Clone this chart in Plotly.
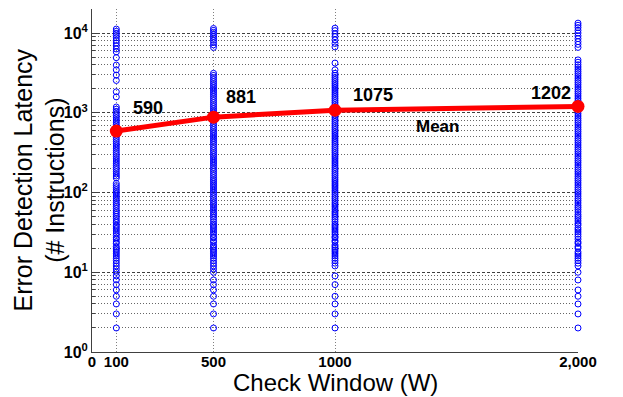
import math
import plotly.graph_objects as go

# ---------------- data ----------------
windows = [100, 500, 1000, 2000]

lat_100 = [2, 3, 4, 5, 6, 7, 8, 9, 10,
           11, 12, 13, 14, 15, 16, 17, 18, 19, 20, 21, 23, 24, 26, 27, 29, 31, 33, 35, 37,
           39, 42, 44, 47, 50, 53, 56, 59, 63, 67, 71, 75, 80, 85, 90, 96, 102, 108, 115,
           122, 130,
           152, 161, 171, 182, 194, 206, 219, 233, 248, 264, 281, 299, 318, 338, 360, 383,
           408, 434, 462, 492, 524, 558, 594, 632, 673, 716, 762, 811, 863, 919, 978, 1041,
           1108, 1180,
           1580, 1830, 2540, 2970, 3450, 3960, 4900,
           5800, 6300, 6900, 7500, 8100, 8700, 9300, 9900, 10500, 11200]

lat_500 = [2, 3, 4, 5, 6, 7, 8, 10,
           11, 12, 13, 14, 15, 16, 17, 18, 19, 20, 21, 22, 24, 25, 27, 28, 30, 32, 34, 36,
           38, 40, 43, 46, 49, 52, 55, 58, 62, 66, 70, 74, 79, 84, 89, 95, 101, 107, 114,
           121, 128, 136, 144, 153, 163, 173, 184, 195, 207, 220, 234, 248, 264, 280, 297,
           316, 335, 356, 378, 402, 427, 453, 481, 511, 543, 577, 613, 651, 691, 734, 780,
           828, 880, 934, 992, 1054, 1120, 1189, 1263, 1342, 1425, 1514, 1608, 1708, 1814,
           1927, 2047, 2175, 2310, 2454, 2607, 2769, 2942, 3125,
           6600, 7100, 7600, 8100, 8600, 9100, 9600, 10200, 10800, 11400]

lat_1000 = [2, 3, 4, 5, 7, 9, 12,
            13, 14, 15, 16, 17, 18, 19, 20, 21, 22, 24, 25, 27, 28, 30, 32, 34, 36, 38, 40,
            43, 46, 49, 52, 55, 58, 62, 66, 70, 74, 79, 84, 89, 95, 101, 107, 114, 121, 128,
            136, 144, 153, 163, 173, 184, 195, 207, 220, 234, 248, 264, 280, 297, 316, 335,
            356, 378, 402, 427, 453, 481, 511, 543, 577, 613, 651, 691, 734, 780, 828, 880,
            934, 992, 1054, 1120, 1189, 1263, 1342, 1425, 1514, 1608, 1708, 1814, 1927, 2047,
            2175, 2310, 2454, 2607, 2769, 2942, 3125, 3450,
            4200,
            6700, 7400, 8200, 9000, 9800, 10700, 11500]

lat_2000 = [2, 3, 4, 5, 6, 8, 10,
            12, 13, 14, 15, 16, 17, 18, 20, 21, 23, 24, 26, 28, 30, 32, 34, 36, 39, 41, 44,
            47, 50, 53, 57, 61, 65, 69, 74, 79, 84, 90, 96, 102, 109, 116, 124, 132, 141,
            150, 160, 171, 182, 194, 207, 221, 236, 251, 268, 286, 305, 325, 347, 370, 394,
            420, 448, 478, 510, 544, 580, 618, 659, 703, 750, 800, 853, 910, 970, 1035, 1104,
            1177, 1255, 1339, 1428, 1523, 1624, 1732, 1847, 1970, 2101, 2241, 2390, 2549,
            2718, 2899, 3092, 3298, 3517, 3751, 4000, 4300, 4600,
            6600, 7200, 7800, 8500, 9200, 10000, 10800, 11700, 12500, 13300]

mean_latency = [590, 881, 1075, 1202]
mean_labels = ["590", "881", "1075", "1202"]

x_tick_vals = [0, 100, 500, 1000, 2000]
x_tick_text = ["0", "100", "500", "1000", "2,000"]
y_tick_vals = [1, 10, 100, 1000, 10000]
y_tick_text = ["10<sup>0</sup>", "10<sup>1</sup>", "10<sup>2</sup>", "10<sup>3</sup>", "10<sup>4</sup>"]
y_minor_vals = [m * d for d in [1, 10, 100, 1000] for m in range(2, 10)] + [20000]

# ---------------- figure ----------------
FONT = "Liberation Sans, Arial, sans-serif"
fig = go.Figure()

for w, vals in zip(windows, [lat_100, lat_500, lat_1000, lat_2000]):
    fig.add_trace(go.Scatter(
        x=[w] * len(vals), y=vals, mode="markers",
        marker=dict(symbol="circle-open", size=6, color="#0000FF", line=dict(width=1, color="#0000FF")),
        showlegend=False, hoverinfo="skip", cliponaxis=False))

fig.add_trace(go.Scatter(
    x=windows, y=mean_latency, mode="lines+markers",
    line=dict(color="#FF0000", width=5),
    marker=dict(size=13, color="#FF0000"),
    showlegend=False, cliponaxis=False))

shifts = [(32, 23), (27, 20), (38, 15), (-27, 13)]
for w, v, lab, (dx, dy) in zip(windows, mean_latency, mean_labels, shifts):
    fig.add_annotation(x=w, y=math.log10(v), text="<b>" + lab + "</b>", showarrow=False,
                       xshift=dx, yshift=dy, font=dict(family=FONT, size=18, color="black"))

fig.add_annotation(x=1420, y=math.log10(663), text="<b>Mean</b>", showarrow=False,
                   font=dict(family=FONT, size=17, color="black"))

# axis titles as paper annotations
fig.add_annotation(xref="paper", yref="paper", x=0.5, y=0, yanchor="middle",
                   yshift=-30, text="Check Window (W)", showarrow=False,
                   font=dict(family=FONT, size=24, color="black"))
fig.add_annotation(xref="paper", yref="paper", x=0, y=0.5, xanchor="center",
                   xshift=-53, text="Error Detection Latency<br>(# Instructions)",
                   textangle=-90, showarrow=False,
                   font=dict(family=FONT, size=25, color="black"))

# page body has an 8px margin: figure is sized/margined so the plot lands where the reference has it
fig.update_layout(
    width=607, height=389,
    margin=dict(l=84, r=37, t=1, b=45, autoexpand=False),
    paper_bgcolor="white", plot_bgcolor="white",
    font=dict(family=FONT, color="black"),
    xaxis=dict(
        range=[0, 2000], tickmode="array", tickvals=x_tick_vals,
        ticktext=["<b>" + t + "</b>" for t in x_tick_text],
        tickfont=dict(size=15, family=FONT, color="black"),
        showline=True, linecolor="#404040", linewidth=1, mirror=False,
        showgrid=True, gridcolor="#808080", griddash="1px,2px", gridwidth=1,
        zeroline=False, ticks="", ticklen=0, automargin=False,
        ticklabelstandoff=-4,
    ),
    yaxis=dict(
        type="log", range=[0, math.log10(20000)], tickmode="array",
        tickvals=y_tick_vals, ticktext=["<b>" + t + "</b>" for t in y_tick_text],
        tickfont=dict(size=16, family=FONT, color="black"),
        showline=True, linecolor="#404040", linewidth=1, mirror=False,
        showgrid=True, gridcolor="#404040", griddash="3px,2px", gridwidth=1,
        ticks="inside", ticklen=5, tickcolor="#404040", automargin=False,
        zeroline=False,
        minor=dict(tickvals=y_minor_vals, ticks="inside", ticklen=3, tickcolor="#404040",
                   showgrid=True, gridcolor="#666666", griddash="1px,2px", gridwidth=1),
    ),
)

fig.write_html("out.html")
